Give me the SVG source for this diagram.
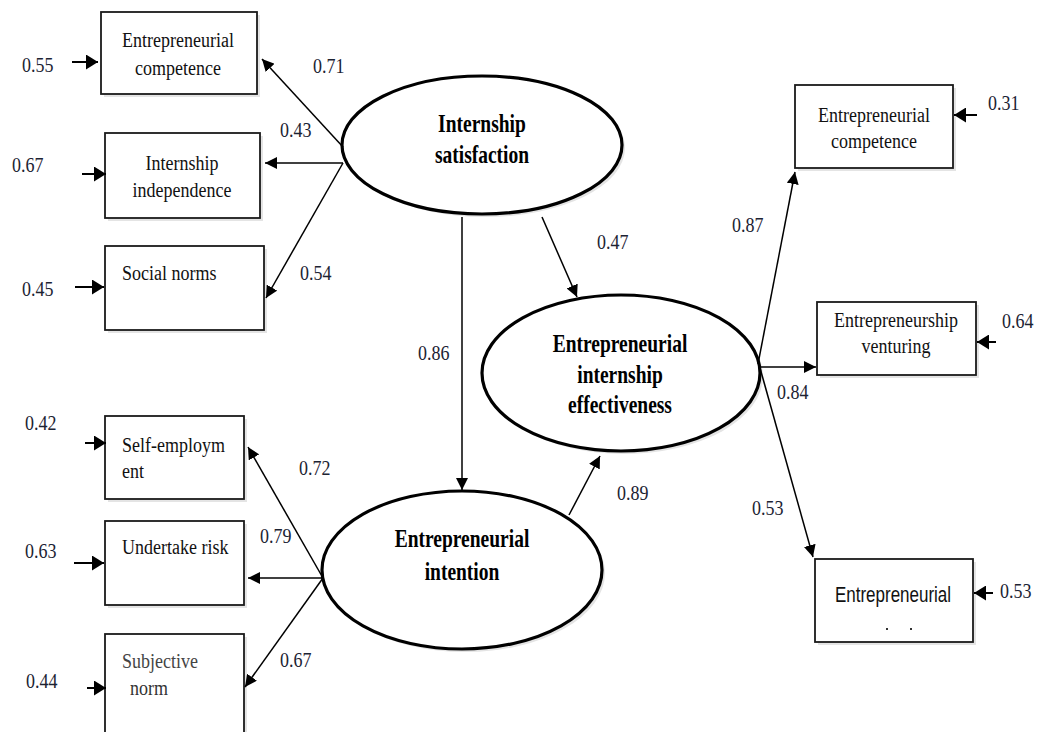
<svg xmlns="http://www.w3.org/2000/svg" width="1040" height="732" viewBox="0 0 1040 732">
  <defs>
    <marker id="arrow" markerUnits="userSpaceOnUse" markerWidth="13" markerHeight="12" refX="12" refY="6" orient="auto">
      <path d="M0,0 L12,6 L0,12 z" fill="#000"/>
    </marker>
    <marker id="arrow-err" markerUnits="userSpaceOnUse" markerWidth="13" markerHeight="15" refX="12" refY="7.5" orient="auto">
      <path d="M0,0 L12,7.5 L0,15 z" fill="#000"/>
    </marker>
  </defs>
  <style>
    .box { fill: #fff; stroke: #1a1a1a; stroke-width: 1.8; }
    .shadow { fill: #e4e4e4; stroke: none; }
    .latent { fill: #fff; stroke: #000; stroke-width: 3.2; }
    .lbl { font-family: "Liberation Serif", "Times New Roman", serif; font-size: 18px; fill: #111; }
    .lat { font-family: "Liberation Serif", "Times New Roman", serif; font-size: 19.5px; font-weight: bold; fill: #000; text-anchor: middle; }
    .num { font-family: "Liberation Serif", "Times New Roman", serif; font-size: 18px; fill: #1c2333; }
    .mid { text-anchor: middle; }
    .sans { font-family: "Liberation Sans", Arial, sans-serif; font-size: 17px; fill: #111; text-anchor: middle; }
    .path { stroke: #000; stroke-width: 1.5; fill: none; marker-end: url(#arrow); }
    .err { stroke: #000; stroke-width: 2; fill: none; marker-end: url(#arrow-err); }
  </style>

  <rect width="1040" height="732" fill="#fff"/>

  <!-- Latent variables -->
  <g id="internship-satisfaction">
    <ellipse class="shadow" cx="485" cy="148" rx="140" ry="69"/>
    <ellipse class="latent" cx="482" cy="145" rx="140" ry="69"/>
    <text class="lat" transform="translate(482,132) scale(1,1.3)">Internship</text>
    <text class="lat" transform="translate(482,163) scale(1,1.3)">satisfaction</text>
  </g>

  <g id="internship-effectiveness">
    <ellipse class="shadow" cx="624" cy="376" rx="139" ry="78"/>
    <ellipse class="latent" cx="621" cy="373" rx="139" ry="78"/>
    <text class="lat" transform="translate(620,352) scale(1,1.3)">Entrepreneurial</text>
    <text class="lat" transform="translate(620,383) scale(1,1.3)">internship</text>
    <text class="lat" transform="translate(620,413) scale(1,1.3)">effectiveness</text>
  </g>

  <g id="entrepreneurial-intention">
    <ellipse class="shadow" cx="465" cy="573" rx="140" ry="79"/>
    <ellipse class="latent" cx="462" cy="570" rx="140" ry="79"/>
    <text class="lat" transform="translate(462,547) scale(1,1.3)">Entrepreneurial</text>
    <text class="lat" transform="translate(462,580) scale(1,1.3)">intention</text>
  </g>

  <!-- Indicators of internship satisfaction -->
  <g id="is-competence">
    <rect class="shadow" x="104" y="15" width="156" height="82"/>
    <rect class="box" x="101" y="12" width="156" height="82"/>
    <text class="lbl mid" transform="translate(178,47) scale(1,1.2)">Entrepreneurial</text>
    <text class="lbl mid" transform="translate(178,75) scale(1,1.2)">competence</text>
  </g>
  <g id="is-independence">
    <rect class="shadow" x="108" y="136" width="155" height="85"/>
    <rect class="box" x="105" y="133" width="155" height="85"/>
    <text class="lbl mid" transform="translate(182,170) scale(1,1.2)">Internship</text>
    <text class="lbl mid" transform="translate(182,197) scale(1,1.2)">independence</text>
  </g>
  <g id="is-social-norms">
    <rect class="shadow" x="108" y="249" width="159" height="84"/>
    <rect class="box" x="105" y="246" width="159" height="84"/>
    <text class="lbl" transform="translate(122,280) scale(1,1.2)">Social norms</text>
  </g>

  <!-- Indicators of entrepreneurial intention -->
  <g id="ei-self-employment">
    <rect class="shadow" x="108" y="419" width="139" height="83"/>
    <rect class="box" x="105" y="416" width="139" height="83"/>
    <text class="lbl" transform="translate(122,452) scale(1,1.2)">Self-employm</text>
    <text class="lbl" transform="translate(122,478) scale(1,1.2)">ent</text>
  </g>
  <g id="ei-undertake-risk">
    <rect class="shadow" x="108" y="524" width="139" height="84"/>
    <rect class="box" x="105" y="521" width="139" height="84"/>
    <text class="lbl" transform="translate(122,554) scale(1,1.2)">Undertake risk</text>
  </g>
  <g id="ei-subjective-norm">
    <rect class="shadow" x="108" y="637" width="139" height="110"/>
    <rect class="box" x="105" y="634" width="139" height="110"/>
    <text class="lbl" transform="translate(122,668) scale(1,1.2)" style="fill:#444">Subjective</text>
    <text class="lbl" transform="translate(130,695) scale(1,1.2)" style="fill:#333">norm</text>
  </g>

  <!-- Indicators of internship effectiveness -->
  <g id="eff-competence">
    <rect class="shadow" x="798" y="88" width="158" height="83"/>
    <rect class="box" x="795" y="85" width="158" height="83"/>
    <text class="lbl mid" transform="translate(874,122) scale(1,1.2)">Entrepreneurial</text>
    <text class="lbl mid" transform="translate(874,148) scale(1,1.2)">competence</text>
  </g>
  <g id="eff-venturing">
    <rect class="shadow" x="820" y="305" width="159" height="73"/>
    <rect class="box" x="817" y="302" width="159" height="73"/>
    <text class="lbl mid" transform="translate(896,327) scale(1,1.2)">Entrepreneurship</text>
    <text class="lbl mid" transform="translate(896,353) scale(1,1.2)">venturing</text>
  </g>
  <g id="eff-entrepreneurial">
    <rect class="shadow" x="818" y="562" width="158" height="83"/>
    <rect class="box" x="815" y="559" width="158" height="83"/>
    <text class="sans" transform="translate(893,602) scale(1,1.3)">Entrepreneurial</text>
    <rect x="886" y="628" width="2" height="2" fill="#333"/>
    <rect x="910" y="628" width="2" height="2" fill="#333"/>
  </g>

  <!-- Connectors -->
  <g id="connectors">
    <!-- structural paths -->
    <line class="path" x1="462" y1="217" x2="462" y2="490"/>
    <line class="path" x1="542" y1="217" x2="577" y2="297"/>
    <line class="path" x1="569" y1="515" x2="600" y2="456"/>

    <!-- loadings: internship satisfaction -->
    <line class="path" x1="343" y1="147" x2="262" y2="59"/>
    <line class="path" x1="343" y1="163" x2="265" y2="163"/>
    <line class="path" x1="343" y1="163" x2="266" y2="298"/>

    <!-- loadings: entrepreneurial intention -->
    <line class="path" x1="323" y1="578" x2="248" y2="447"/>
    <line class="path" x1="323" y1="578" x2="248" y2="578"/>
    <line class="path" x1="323" y1="578" x2="245" y2="687"/>

    <!-- loadings: internship effectiveness -->
    <line class="path" x1="758" y1="364" x2="795" y2="172"/>
    <line class="path" x1="760" y1="367" x2="816" y2="367"/>
    <line class="path" x1="760" y1="368" x2="813" y2="557"/>

    <!-- error terms -->
    <line class="err" x1="72" y1="62" x2="98" y2="62"/>
    <line class="err" x1="82" y1="174" x2="106" y2="174"/>
    <line class="err" x1="75" y1="287" x2="104" y2="287"/>
    <line class="err" x1="85" y1="443" x2="106" y2="443"/>
    <line class="err" x1="74" y1="563" x2="104" y2="563"/>
    <line class="err" x1="87" y1="688" x2="106" y2="688"/>
    <line class="err" x1="977" y1="115" x2="954" y2="115"/>
    <line class="err" x1="996" y1="342" x2="977" y2="342"/>
    <line class="err" x1="993" y1="593" x2="974" y2="593"/>
    <line x1="985" y1="587" x2="985" y2="599" stroke="#000" stroke-width="1.5"/>
  </g>

  <!-- Coefficients -->
  <g id="coefficients">
    <text class="num" transform="translate(22,72) scale(1,1.2)">0.55</text>
    <text class="num" transform="translate(12,172) scale(1,1.2)">0.67</text>
    <text class="num" transform="translate(22,296) scale(1,1.2)">0.45</text>
    <text class="num" transform="translate(25,430) scale(1,1.2)">0.42</text>
    <text class="num" transform="translate(25,558) scale(1,1.2)">0.63</text>
    <text class="num" transform="translate(26,688) scale(1,1.2)">0.44</text>

    <text class="num" transform="translate(313,73) scale(1,1.2)">0.71</text>
    <text class="num" transform="translate(280,137) scale(1,1.2)">0.43</text>
    <text class="num" transform="translate(300,280) scale(1,1.2)">0.54</text>
    <text class="num" transform="translate(299,475) scale(1,1.2)">0.72</text>
    <text class="num" transform="translate(260,543) scale(1,1.2)">0.79</text>
    <text class="num" transform="translate(280,667) scale(1,1.2)">0.67</text>

    <text class="num" transform="translate(418,360) scale(1,1.2)">0.86</text>
    <text class="num" transform="translate(597,249) scale(1,1.2)">0.47</text>
    <text class="num" transform="translate(617,500) scale(1,1.2)">0.89</text>

    <text class="num" transform="translate(732,232) scale(1,1.2)">0.87</text>
    <text class="num" transform="translate(777,399) scale(1,1.2)">0.84</text>
    <text class="num" transform="translate(752,515) scale(1,1.2)">0.53</text>

    <text class="num" transform="translate(988,110) scale(1,1.2)">0.31</text>
    <text class="num" transform="translate(1002,328) scale(1,1.2)">0.64</text>
    <text class="num" transform="translate(1000,598) scale(1,1.2)">0.53</text>
  </g>
</svg>
